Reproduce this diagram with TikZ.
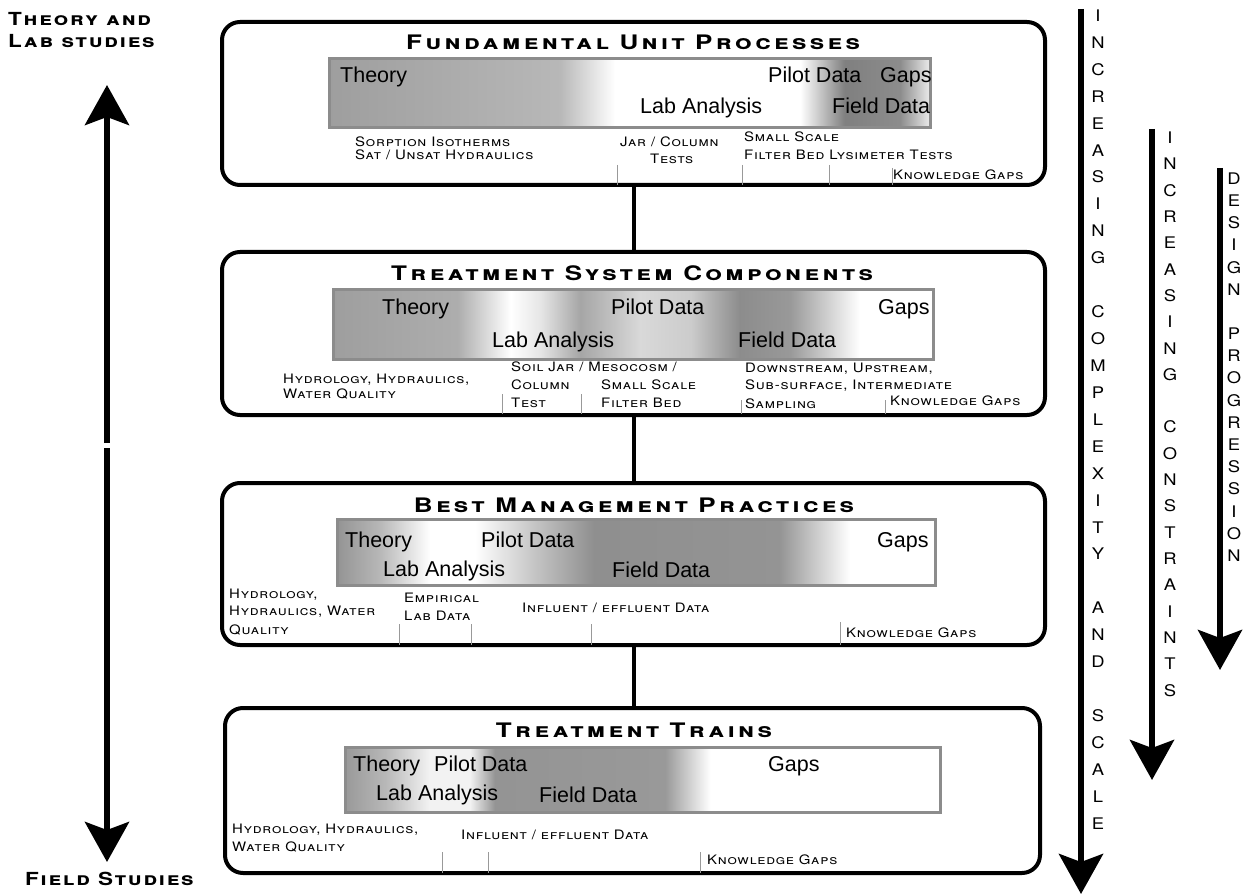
\documentclass[tikz,border=0pt]{standalone}
\usepackage{fontspec}
\setmainfont{Liberation Sans}
\newfontfamily\barfont{Liberation Sans}
\newfontfamily\notefont{TeX Gyre Heros}[Letters=SmallCaps,FakeStretch=1.15,LetterSpace=6]
\newfontfamily\headfont{TeX Gyre Heros}[Letters=SmallCaps,FakeStretch=1.3,LetterSpace=17]
\newfontfamily\sidefont{TeX Gyre Heros}[Letters=SmallCaps,FakeStretch=1.25,LetterSpace=10]
\usetikzlibrary{arrows.meta}

\definecolor{barframe}{gray}{0.55}
\definecolor{tickline}{gray}{0.6}

% grey bands behind the data labels, one per panel
\pgfdeclarehorizontalshading{fupshade}{100bp}{color(0bp)=(black!38); color(25bp)=(black!38); color(44.2bp)=(black!28); color(48.8bp)=(white); color(64.2bp)=(white); color(67.9bp)=(black!50); color(72.5bp)=(black!45); color(75bp)=(black!8); color(100bp)=(black!8)}
\pgfdeclarehorizontalshading{tscshade}{100bp}{color(0bp)=(black!38); color(25bp)=(black!38); color(35.4bp)=(black!32); color(39.8bp)=(white); color(42.3bp)=(black!10); color(45.6bp)=(black!35); color(50.6bp)=(black!15); color(54.8bp)=(black!20); color(58.9bp)=(black!45); color(63.1bp)=(black!40); color(68.9bp)=(white); color(100bp)=(white)}
\pgfdeclarehorizontalshading{bmpshade}{100bp}{color(0bp)=(black!42); color(25bp)=(black!42); color(28.6bp)=(black!28); color(32.8bp)=(white); color(36.5bp)=(white); color(42bp)=(black!25); color(46.5bp)=(black!44); color(62bp)=(black!42); color(67.9bp)=(white); color(100bp)=(white)}
\pgfdeclarehorizontalshading{trtshade}{100bp}{color(0bp)=(black!40); color(25bp)=(black!40); color(28.4bp)=(black!28); color(32.1bp)=(black!5); color(35.5bp)=(black!5); color(37.6bp)=(black!42); color(51.9bp)=(black!40); color(55.7bp)=(white); color(100bp)=(white)}

\tikzset{
  panel/.style={draw, line width=4pt, rounded corners=18pt, inner sep=0pt},
  bar/.style={draw=barframe, line width=3pt, shade, inner sep=0pt},
  link/.style={line width=4pt},
  datatext/.style={anchor=base west, inner sep=0pt, font=\barfont\fontsize{21.5}{24}\selectfont},
  note/.style={anchor=base west, inner sep=0pt, font=\notefont\fontsize{13}{15}\selectfont},
  heading/.style={anchor=base, inner sep=0pt, font=\headfont\bfseries\fontsize{20}{23}\selectfont},
  side/.style={inner sep=0pt, align=left, font=\sidefont\bfseries\fontsize{18}{22}\selectfont},
  vword/.style={anchor=north, inner sep=0pt, align=center},
  tick/.style={draw=tickline, line width=0.8pt},
  bigarrow/.style={line width=6pt, -{Stealth[length=40pt, width=44pt, inset=8pt]}}
}

\begin{document}
\begin{tikzpicture}[x=1pt, y=-1pt]
  \fill[white] (0,0) rectangle (1243,896);
  \useasboundingbox (0,0) rectangle (1243,896);

  % Draw the four panels
  \node[panel, minimum width=823pt, minimum height=163pt] (fup) at (633.5,103.5) {};
  \node[panel, minimum width=823pt, minimum height=163pt] (tsc) at (633.5,333.5) {};
  \node[panel, minimum width=823pt, minimum height=162pt] (bmp) at (633.5,564) {};
  \node[panel, minimum width=815pt, minimum height=165pt] (trt) at (632.5,790.5) {};

  % Connect the panels
  \draw[link] (fup.south) -- (tsc.north);
  \draw[link] (tsc.south) -- (bmp.north);
  \draw[link] (bmp.south) -- (bmp.south |- trt.north);

  % Panel 1: fundamental unit processes
  \node[heading] (fuptitle) at (633,50) {Fundamental Unit Processes};
  \node[bar, shading=fupshade, minimum width=601pt, minimum height=69pt] (fupbar) at (629.5,93.5) {};
  \node[datatext] (fuptheory) at (340,83) {Theory};
  \node[datatext] (fuppilot) at (768,83) {Pilot Data};
  \node[datatext] (fupgaps) at (880,83) {Gaps};
  \node[datatext] (fuplab) at (640,114) {Lab Analysis};
  \node[datatext] (fupfield) at (832,114) {Field Data};
  \node[note] (fupsorp) at (355,147) {Sorption Isotherms};
  \node[note] (fupsat) at (355,160) {Sat / Unsat Hydraulics};
  \node[note] (fupjar) at (620,147) {Jar / Column};
  \node[note] (fuptests) at (650,164) {Tests};
  \node[note] (fupsmall) at (744,142) {Small Scale};
  \node[note] (fupfilter) at (744,160) {Filter Bed Lysimeter Tests};
  \node[note] (fupgap) at (893,180) {Knowledge Gaps};
  \draw[tick] (617,165) -- (617,185);
  \draw[tick] (742,165) -- (742,185);
  \draw[tick] (829,165) -- (829,185);
  \draw[tick] (892,168) -- (892,185);

  % Panel 2: treatment system components
  \node[heading] (tsctitle) at (632,281) {Treatment System Components};
  \node[bar, shading=tscshade, minimum width=600pt, minimum height=70pt] (tscbar) at (633,324.5) {};
  \node[datatext] (tsctheory) at (382,315) {Theory};
  \node[datatext] (tscpilot) at (611,315) {Pilot Data};
  \node[datatext] (tscgaps) at (878,315) {Gaps};
  \node[datatext] (tsclab) at (492,347) {Lab Analysis};
  \node[datatext] (tscfield) at (738,347) {Field Data};
  \node[note] (tschydro) at (283,383) {Hydrology, Hydraulics,};
  \node[note] (tscwater) at (283,398) {Water Quality};
  \node[note] (tscsoil) at (511,371) {Soil Jar / Mesocosm /};
  \node[note] (tsccolumn) at (511,389) {Column};
  \node[note] (tscsmall) at (601,389) {Small Scale};
  \node[note] (tsctest) at (511,407) {Test};
  \node[note] (tscfilter) at (601,407) {Filter Bed};
  \node[note] (tscdown) at (745,372) {Downstream, Upstream,};
  \node[note] (tscsub) at (745,389) {Sub-surface, Intermediate};
  \node[note] (tscsamp) at (745,408) {Sampling};
  \node[note] (tscgap) at (890,405) {Knowledge Gaps};
  \draw[tick] (502,394) -- (502,414);
  \draw[tick] (581,394) -- (581,414);
  \draw[tick] (741,400) -- (741,414);
  \draw[tick] (885,400) -- (885,414);

  % Panel 3: best management practices
  \node[heading] (bmptitle) at (634,512) {Best Management Practices};
  \node[bar, shading=bmpshade, minimum width=598pt, minimum height=66pt] (bmpbar) at (636,552) {};
  \node[datatext] (bmptheory) at (345,547) {Theory};
  \node[datatext] (bmppilot) at (481,547) {Pilot Data};
  \node[datatext] (bmpgaps) at (877,547) {Gaps};
  \node[datatext] (bmplab) at (383,576) {Lab Analysis};
  \node[datatext] (bmpfield) at (612,577) {Field Data};
  \node[note] (bmphydro) at (229,598) {Hydrology,};
  \node[note] (bmphydra) at (229,615) {Hydraulics, Water};
  \node[note] (bmpqual) at (229,634) {Quality};
  \node[note] (bmpemp) at (404,602) {Empirical};
  \node[note] (bmplabd) at (404,620) {Lab Data};
  \node[note] (bmpinf) at (522,612) {Influent / effluent Data};
  \node[note] (bmpgap) at (846,637) {Knowledge Gaps};
  \draw[tick] (399,624) -- (399,645);
  \draw[tick] (471,624) -- (471,645);
  \draw[tick] (591,624) -- (591,645);
  \draw[tick] (840,622) -- (840,645);

  % Panel 4: treatment trains
  \node[heading] (trttitle) at (634,737) {Treatment Trains};
  \node[bar, shading=trtshade, minimum width=595pt, minimum height=65pt] (trtbar) at (642.5,779.5) {};
  \node[datatext] (trttheory) at (353,771) {Theory};
  \node[datatext] (trtpilot) at (434,771) {Pilot Data};
  \node[datatext] (trtgaps) at (768,771) {Gaps};
  \node[datatext] (trtlab) at (376,800) {Lab Analysis};
  \node[datatext] (trtfield) at (539,802) {Field Data};
  \node[note] (trthydro) at (232,833) {Hydrology, Hydraulics,};
  \node[note] (trtwater) at (232,851) {Water Quality};
  \node[note] (trtinf) at (461,839) {Influent / effluent Data};
  \node[note] (trtgap) at (707,864) {Knowledge Gaps};
  \draw[tick] (442,852) -- (442,873);
  \draw[tick] (488,852) -- (488,873);
  \draw[tick] (700,852) -- (700,873);

  % Left scale: lab to field
  \node[side, anchor=north west] (labside) at (8,12) {Theory and\\Lab studies};
  \node[side, anchor=base west] (fieldside) at (25,885) {Field Studies};
  \coordinate (upfrom) at (107,443);
  \coordinate (upto) at (107,85);
  \coordinate (downfrom) at (107,448);
  \coordinate (downto) at (107,862);
  \draw[bigarrow] (upfrom) -- (upto);
  \draw[bigarrow] (downfrom) -- (downto);

  % Right scales
  \coordinate (cxtop) at (1081,9);
  \coordinate (cxtip) at (1081,894);
  \coordinate (cstop) at (1152,129);
  \coordinate (cstip) at (1152,780);
  \coordinate (dptop) at (1220,168);
  \coordinate (dptip) at (1220,670);
  \draw[bigarrow] (cxtop) -- (cxtip);
  \draw[bigarrow] (cstop) -- (cstip);
  \draw[bigarrow] (dptop) -- (dptip);
  \node[vword, font=\notefont\fontsize{16}{26.93}\selectfont] (cxword) at (1098,9.5)
    {I\\N\\C\\R\\E\\A\\S\\I\\N\\G\\~\\C\\O\\M\\P\\L\\E\\X\\I\\T\\Y\\~\\A\\N\\D\\~\\S\\C\\A\\L\\E};
  \node[vword, font=\notefont\fontsize{16}{26.33}\selectfont] (csword) at (1170,131.5)
    {I\\N\\C\\R\\E\\A\\S\\I\\N\\G\\~\\C\\O\\N\\S\\T\\R\\A\\I\\N\\T\\S};
  \node[vword, font=\notefont\fontsize{16}{22.18}\selectfont] (dpword) at (1234,172.5)
    {D\\E\\S\\I\\G\\N\\~\\P\\R\\O\\G\\R\\E\\S\\S\\I\\O\\N};
\end{tikzpicture}
\end{document}
